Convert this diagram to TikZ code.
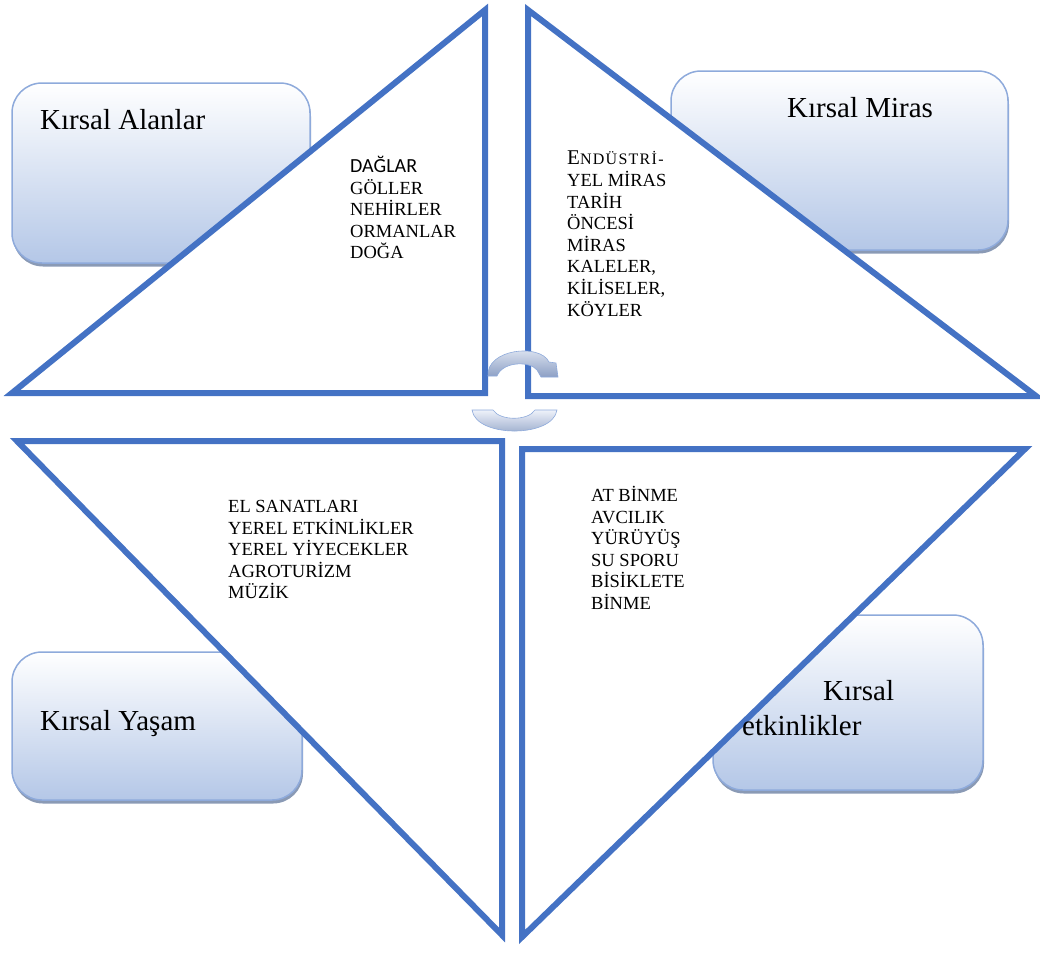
\documentclass[tikz,border=0pt]{standalone}
\usepackage{fontspec}
\setmainfont{Liberation Serif}
\newfontfamily\calfont{Carlito}
\usetikzlibrary{shadows}
\definecolor{triblue}{HTML}{4472C4}
\definecolor{boxedge}{HTML}{8EAADB}
\definecolor{boxbot}{HTML}{B4C7E7}
\definecolor{boxshadow}{HTML}{8A9AB5}
\definecolor{arctop}{HTML}{EEF2FA}
\definecolor{arcbot}{HTML}{8C9FC4}
\begin{document}
\begin{tikzpicture}[x=1pt,y=-1pt,
  tri/.style={draw=triblue, line width=6pt, fill=white, line join=miter},
  rbox/.style={draw=boxedge, line width=1.5pt, rounded corners=30pt,
    top color=white, bottom color=boxbot, inner sep=0pt,
    drop shadow={shadow xshift=1pt, shadow yshift=-3.5pt, fill=boxshadow, opacity=1}},
  big/.style={font=\fontsize{29}{34}\selectfont, inner sep=0pt, anchor=base west},
  list/.style={font=\fontsize{18.5}{21.6}\selectfont, align=left, inner sep=0pt, anchor=north west},
  arcband/.style={draw=boxedge, line width=0.6pt, top color=arctop, bottom color=arcbot}]
\useasboundingbox (0,0) rectangle (1040,954);
% rounded boxes
\node[rbox, minimum width=298pt, minimum height=180pt] (b1) at (161,173) {};
\node[rbox, minimum width=337pt, minimum height=179pt] (b2) at (839.5,160.5) {};
\node[rbox, minimum width=290pt, minimum height=148pt] (b3) at (157,726) {};
\node[rbox, minimum width=270pt, minimum height=175pt] (b4) at (848,702.5) {};
% triangles
\draw[tri] (12,393) -- (485,10) -- (485,393) -- cycle;
\draw[tri] (528,10) -- (528,396) -- (1036,396) -- cycle;
\draw[tri] (17,441) -- (502,441) -- (502,935) -- cycle;
\draw[tri] (522,449) -- (1025,449) -- (522,937) -- cycle;
% box titles
\node[big] (t1) at (40,129) {Kırsal Alanlar};
\node[big] (t2) at (787,117) {Kırsal Miras};
\node[big] (t3) at (40,730) {Kırsal Yaşam};
\node[big] (t4a) at (823,700) {Kırsal};
\node[big] (t4b) at (742,735) {etkinlikler};
% lists
\node[list] (l1) at (350,156) {{\calfont\fontsize{20}{21.6}\selectfont DAĞLAR}\\GÖLLER\\NEHİRLER\\ORMANLAR\\DOĞA};
\node[list] (l2) at (567,151) {{\fontsize{21}{21.6}\selectfont E}{\fontsize{16}{21.6}\selectfont\addfontfeature{LetterSpace=8}NDÜSTRİ-}\\YEL MİRAS\\TARİH\\ÖNCESİ\\MİRAS\\KALELER,\\KİLİSELER,\\KÖYLER};
\node[list] (l3) at (228,500) {EL SANATLARI\\YEREL ETKİNLİKLER\\YEREL YİYECEKLER\\AGROTURİZM\\MÜZİK};
\node[list] (l4) at (591,486) {AT BİNME\\AVCILIK\\YÜRÜYÜŞ\\SU SPORU\\BİSİKLETE\\BİNME};
% circular arrows in the centre
\draw[arcband] (488,376) .. controls (486,349) and (540,343) .. (549,362) -- (556,363) -- (558,377) -- (541,377) -- (537,370) .. controls (530,361) and (503,361) .. (497,376) -- cycle;
\draw[arcband] (472,410) -- (493,410) .. controls (500,421) and (528,421) .. (535,410) -- (557,410) .. controls (553,438) and (476,438) .. (472,410) -- cycle;
\end{tikzpicture}
\end{document}
